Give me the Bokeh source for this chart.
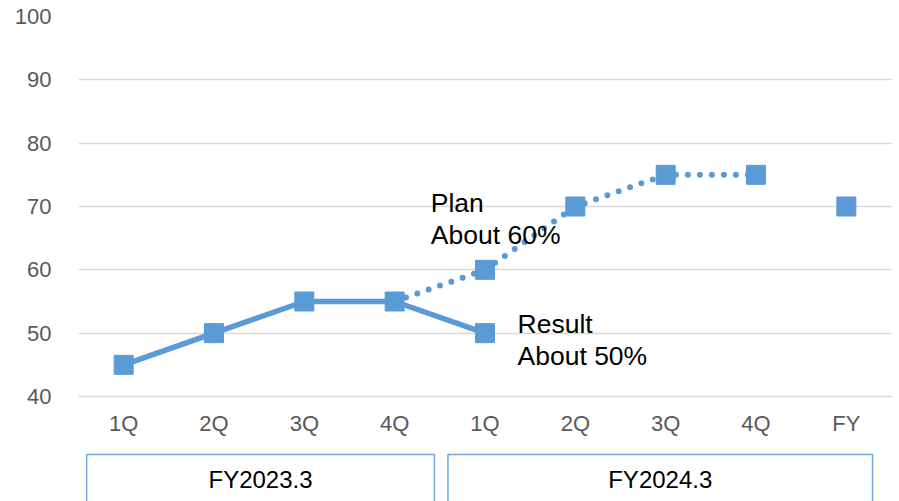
from bokeh.plotting import figure
from bokeh.layouts import column
from bokeh.models import Range1d, FixedTicker
from bokeh.core.properties import value
from bokeh.embed import file_html
from bokeh.resources import INLINE

# ---- data -------------------------------------------------------------
quarters = ["1Q", "2Q", "3Q", "4Q", "1Q", "2Q", "3Q", "4Q", "FY"]
result_values = [45, 50, 55, 55, 50]          # FY2023.3 1Q .. FY2024.3 1Q
plan_values = [55, 60, 70, 75, 75]            # FY2023.3 4Q .. FY2024.3 4Q
plan_start = 3                                # index of FY2023.3 4Q
fy_plan_value = 70
years = ["FY2023.3", "FY2024.3"]
year_first = [0, 4]                           # first quarter index of each year
year_last = [3, 8]                            # last quarter index of each year
y_ticks = [40, 50, 60, 70, 80, 90, 100]
plan_note = ["Plan", "About 60%"]
result_note = ["Result", "About 50%"]

BLUE = "#5B9BD5"
GRID = "#D9D9D9"
FONT = "Liberation Sans"

W = 899
main_h = 450
box_h = 51

xs = [i + 0.5 for i in range(len(quarters))]

p = figure(width=W, height=main_h, output_backend="svg", toolbar_location=None,
           x_range=Range1d(0, len(quarters)), y_range=Range1d(40, 100),
           min_border_left=78, min_border_right=8, min_border_top=16,
           min_border_bottom=54)
p.outline_line_color = None
p.background_fill_color = "white"
p.border_fill_color = "white"

p.xgrid.grid_line_color = None
p.ygrid.grid_line_color = GRID
p.ygrid.grid_line_width = 1.5
p.yaxis.ticker = FixedTicker(ticks=y_ticks)
p.yaxis.axis_line_color = None
p.yaxis.major_tick_line_color = None
p.yaxis.minor_tick_line_color = None
p.yaxis.major_tick_out = 0
p.yaxis.major_tick_in = 0
p.yaxis.major_label_standoff = 27
p.yaxis.major_label_text_font = FONT
p.yaxis.major_label_text_font_size = "22px"
p.yaxis.major_label_text_color = "#595959"

p.xaxis.ticker = FixedTicker(ticks=xs)
p.xaxis.major_label_overrides = {x: q for x, q in zip(xs, quarters)}
p.xaxis.axis_line_color = GRID
p.xaxis.axis_line_width = 1.5
p.xaxis.major_tick_line_color = None
p.xaxis.minor_tick_line_color = None
p.xaxis.major_tick_out = 0
p.xaxis.major_tick_in = 0
p.xaxis.major_label_standoff = 14
p.xaxis.major_label_text_font = FONT
p.xaxis.major_label_text_font_size = "22px"
p.xaxis.major_label_text_color = "#595959"

# plan (dotted) and result (solid) lines
plan_x = xs[plan_start:plan_start + len(plan_values)]
p.line(plan_x, plan_values, line_color=BLUE, line_width=6,
       line_dash="0 12", line_cap="round")
result_x = xs[:len(result_values)]
p.line(result_x, result_values, line_color=BLUE, line_width=5.5, line_join="round")

# markers
p.scatter(result_x, result_values, marker="square", size=19,
          fill_color=BLUE, line_color=BLUE)
p.scatter(plan_x[1:], plan_values[1:], marker="square", size=19,
          fill_color=BLUE, line_color=BLUE)
p.scatter([xs[-1]], [fy_plan_value], marker="square", size=19,
          fill_color=BLUE, line_color=BLUE)

# notes
p.text(x=[3.9, 3.9], y=[70.6, 65.5], text=plan_note,
       text_font=value(FONT), text_font_size="26.5px", text_color="black",
       text_baseline="alphabetic", text_align="left")
p.text(x=[4.86, 4.86], y=[51.5, 46.4], text=result_note,
       text_font=value(FONT), text_font_size="26.5px", text_color="black",
       text_baseline="alphabetic", text_align="left")

# fiscal-year group boxes under the quarter labels
b = figure(width=W, height=box_h, output_backend="svg", toolbar_location=None,
           x_range=p.x_range, y_range=Range1d(0, box_h),
           min_border_left=78, min_border_right=8, min_border_top=0,
           min_border_bottom=0)
b.outline_line_color = None
b.axis.visible = False
b.grid.visible = False
pad_left = [0.09, 0.09]
pad_right = [0.06, 0.21]
lefts = [f + pl for f, pl in zip(year_first, pad_left)]
rights = [l + 1 - pr for l, pr in zip(year_last, pad_right)]
b.quad(left=lefts, right=rights, top=[box_h - 4] * 2, bottom=[-20] * 2,
       fill_color=None, line_color="#6FA8DC", line_width=1.5)
b.text(x=[(l + r) / 2 for l, r in zip(lefts, rights)], y=[box_h - 29] * 2,
       text=years, text_font=value(FONT), text_font_size="24px",
       text_color="black", text_align="center", text_baseline="middle")

layout = column(p, b, spacing=0)
open("out.html", "w").write(file_html(layout, INLINE))
